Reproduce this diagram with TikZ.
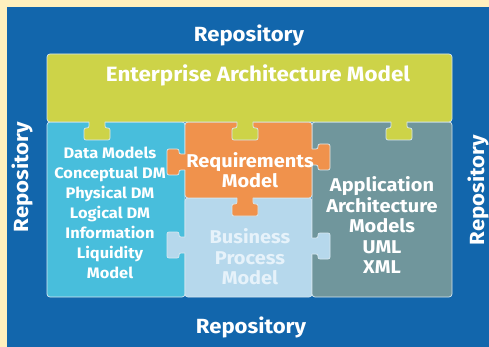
\documentclass[tikz,border=0pt]{standalone}
\usepackage{fontspec}
\setmainfont{Fira Sans}[FakeStretch=1.08]
\definecolor{beigeC}{RGB}{255,240,190}
\definecolor{blueC}{RGB}{18,102,172}
\definecolor{greenC}{RGB}{205,211,72}
\definecolor{cyanC}{RGB}{72,190,220}
\definecolor{orangeC}{RGB}{240,146,76}
\definecolor{lblueC}{RGB}{182,216,236}
\definecolor{greyC}{RGB}{112,150,156}
\definecolor{edgeC}{RGB}{215,232,240}
\definecolor{ltxtC}{RGB}{230,242,250}
\tikzset{
  edgeline/.style={draw=edgeC, line width=0.7pt},
  piece/.style={edgeline, rounded corners=3pt},
  pics/ptab/.style={code={
    \fill[#1, rounded corners=2pt] (-8,-2) -- (-8,6) -- (-13,6) -- (-13,18) -- (13,18) -- (13,6) -- (8,6) -- (8,-2) -- cycle;
    \draw[edgeline, rounded corners=2pt] (-8,0) -- (-8,6) -- (-13,6) -- (-13,18) -- (13,18) -- (13,6) -- (8,6) -- (8,0);
  }},
  reptxt/.style={text=white, font=\bfseries\fontsize{20.5}{24}\selectfont, inner sep=0pt},
  eatxt/.style={text=white, font=\bfseries\fontsize{20.7}{24}\selectfont, inner sep=0pt},
  smalltxt/.style={text=white, font=\bfseries\fontsize{15.2}{20}\selectfont, align=center, inner sep=0pt},
  bigtxt/.style={text=white, font=\bfseries\fontsize{18.5}{20.5}\selectfont, align=center, inner sep=0pt}
}
\begin{document}
\begin{tikzpicture}[x=1pt, y=-1pt]
\useasboundingbox (0,0) rectangle (489,347);
\fill[beigeC] (0,0) rectangle (489,347);
\fill[blueC] (7,7) rectangle (489,347);
% pieces
\filldraw[piece, fill=cyanC] (47,122) rectangle (185,297);
\filldraw[piece, fill=lblueC] (185,198) rectangle (312,297);
\filldraw[piece, fill=greyC] (312,122) rectangle (452,297);
\filldraw[piece, fill=orangeC] (185,122) rectangle (312,198);
\filldraw[piece, fill=greenC] (47,54) rectangle (452,122);
% tabs
\pic at (97,122) {ptab=greenC};
\pic at (245,122) {ptab=greenC};
\pic at (399,122) {ptab=greenC};
\pic[rotate=-90] at (185,162) {ptab=orangeC};
\pic[rotate=90] at (312,157) {ptab=orangeC};
\pic at (245,198) {ptab=orangeC};
\pic[rotate=-90] at (185,245) {ptab=lblueC};
\pic[rotate=90] at (312,246) {ptab=lblueC};
% texts
\node[reptxt] (rtop) at (249,35) {Repository};
\node[reptxt] (rbot) at (251,327) {Repository};
\node[reptxt, rotate=90] (rleft) at (22,177) {Repository};
\node[reptxt, rotate=90] (rright) at (478,190) {Repository};
\node[eatxt] (ea) at (258,75) {Enterprise Architecture Model};
\node[smalltxt] (dm) at (110,213) {Data Models\\Conceptual DM\\Physical DM\\Logical DM\\Information\\Liquidity\\Model};
\node[bigtxt] (req) at (250,170) {Requirements\\Model};
\node[bigtxt, text=ltxtC] (bpm) at (250,257) {Business\\Process\\Model};
\node[bigtxt] (aam) at (382,225) {Application\\Architecture\\Models\\UML\\XML};
\end{tikzpicture}
\end{document}
